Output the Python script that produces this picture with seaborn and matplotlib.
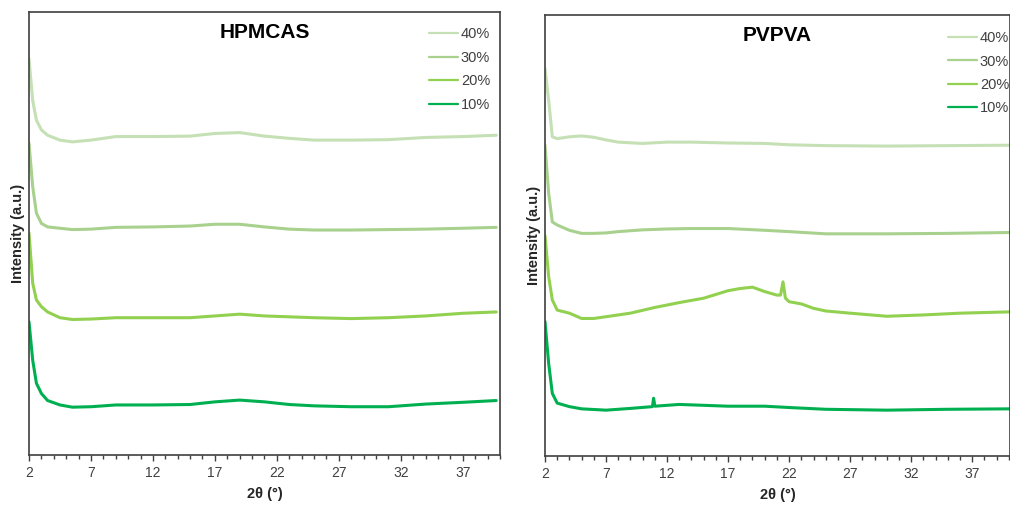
import pandas as pd
import seaborn as sns
import matplotlib.pyplot as plt

# HPMCAS patterns (2 theta in degrees, intensity in a.u.)
hpmcas_theta = [2, 2.3, 2.6, 3.0, 3.5, 4.5, 5.5, 7, 9, 12, 15, 17, 19, 21, 23, 25, 28, 31, 34, 37, 39.7]
hpmcas_40 = [89.5, 80.0, 75.6, 73.4, 72.2, 71.1, 70.7, 71.1, 71.9, 71.9, 72.0, 72.6, 72.8, 72.0, 71.5, 71.1, 71.1, 71.2, 71.7, 71.9, 72.2]
hpmcas_30 = [70.4, 60.6, 54.6, 52.3, 51.5, 51.2, 50.9, 51.0, 51.4, 51.5, 51.7, 52.1, 52.1, 51.5, 51.0, 50.8, 50.8, 50.9, 51.0, 51.2, 51.4]
hpmcas_20 = [50.1, 38.8, 35.0, 33.5, 32.3, 31.0, 30.6, 30.7, 31.0, 31.0, 31.0, 31.4, 31.8, 31.4, 31.2, 31.0, 30.8, 31.0, 31.4, 32.0, 32.3]
hpmcas_10 = [30.1, 21.4, 16.2, 13.9, 12.3, 11.3, 10.8, 10.9, 11.3, 11.3, 11.4, 12.0, 12.4, 12.0, 11.4, 11.1, 10.9, 10.9, 11.5, 11.9, 12.3]

# PVPVA patterns
pvpva_theta = [2, 2.3, 2.6, 3, 4, 5, 6, 7, 8, 10, 12, 14, 17, 20, 22, 25, 30, 35, 40.1]
pvpva_40 = [87.9, 80.7, 72.4, 72.0, 72.4, 72.6, 72.3, 71.7, 71.2, 70.9, 71.2, 71.2, 71.0, 70.9, 70.6, 70.4, 70.3, 70.4, 70.5]
pvpva_30 = [70.5, 59.6, 53.1, 52.4, 51.2, 50.5, 50.5, 50.6, 50.9, 51.3, 51.5, 51.6, 51.6, 51.2, 50.9, 50.4, 50.4, 50.5, 50.7]
pvpva_20_theta = [2, 2.3, 2.6, 3, 4, 5, 6, 7, 9, 11, 13, 15, 17, 18, 19, 20, 21, 21.3, 21.5, 21.7, 22, 23, 24, 25, 27, 30, 33, 36, 40.1]
pvpva_20 = [50.0, 40.7, 35.4, 33.1, 32.4, 31.2, 31.2, 31.6, 32.4, 33.7, 34.8, 35.8, 37.5, 38.0, 38.3, 37.3, 36.5, 36.5, 39.5, 35.8, 35.0, 34.5, 33.5, 32.9, 32.4, 31.7, 32.0, 32.4, 32.7]
pvpva_10_theta = [2, 2.3, 2.6, 3, 4, 5, 7, 9, 10.8, 10.9, 11.0, 13, 14, 17, 20, 22, 25, 30, 35, 40.1]
pvpva_10 = [30.5, 21.0, 14.2, 12.0, 11.2, 10.7, 10.4, 10.8, 11.2, 13.1, 11.3, 11.7, 11.6, 11.3, 11.3, 11.0, 10.6, 10.4, 10.6, 10.7]

labels = ["40%", "30%", "20%", "10%"]
colors = ["#c5e0b4", "#a9d18e", "#92d050", "#00b050"]

sns.set_theme(style="white")
plt.rcParams['font.family'] = ['Liberation Sans', 'DejaVu Sans']

fig = plt.figure(figsize=(10.1, 5.05), dpi=100)
ax1 = fig.add_axes([0.0287, 0.099, 0.4663, 0.877])
ax2 = fig.add_axes([0.5396, 0.097, 0.4604, 0.873])

panels = [
    (ax1, "HPMCAS", [hpmcas_theta] * 4, [hpmcas_40, hpmcas_30, hpmcas_20, hpmcas_10], 39.7, 0.979, 0.966),
    (ax2, "PVPVA", [pvpva_theta, pvpva_theta, pvpva_20_theta, pvpva_10_theta],
     [pvpva_40, pvpva_30, pvpva_20, pvpva_10], 40.1, 0.998, 0.964),
]

for ax, title, xs, ys, xmax, leg_x, leg_y in panels:
    for x, y, lab, col in zip(xs, ys, labels, colors):
        df = pd.DataFrame({"theta": x, "intensity": y})
        sns.lineplot(data=df, x="theta", y="intensity", ax=ax, color=col,
                     label=lab, linewidth=2.2, estimator=None, sort=False)
    ax.set_xlim(2, xmax)
    ax.set_ylim(0, 100)
    ax.set_xticks(range(2, 38, 5))
    ax.set_xticks(range(2, 41), minor=True)
    ax.set_yticks([])
    ax.tick_params(axis="x", which="both", direction="out", bottom=True,
                   length=4, width=1, color="#404040", labelsize=10,
                   labelcolor="#404040", pad=4)
    ax.tick_params(axis="x", which="minor", length=3)
    for sp in ax.spines.values():
        sp.set_color("#404040")
        sp.set_linewidth(1.2)
    ax.set_xlabel("2θ (°)", fontsize=10.5, fontweight="bold", color="#262626", labelpad=5)
    ax.set_ylabel("Intensity (a.u.)", fontsize=10.5, fontweight="bold", color="#262626", labelpad=3)
    ax.text(0.5, 0.953, title, transform=ax.transAxes, ha="center", va="center",
            fontsize=15, fontweight="bold", color="black")
    leg = ax.legend(loc="upper right", bbox_to_anchor=(leg_x, leg_y), frameon=False,
                    borderpad=0, borderaxespad=0, handlelength=2.0, handletextpad=0.2,
                    labelspacing=0.65, fontsize=10.5)
    for t in leg.get_texts():
        t.set_color("#404040")
    for ln in leg.get_lines():
        ln.set_linewidth(1.6)

fig.savefig("out.png", dpi=100)
